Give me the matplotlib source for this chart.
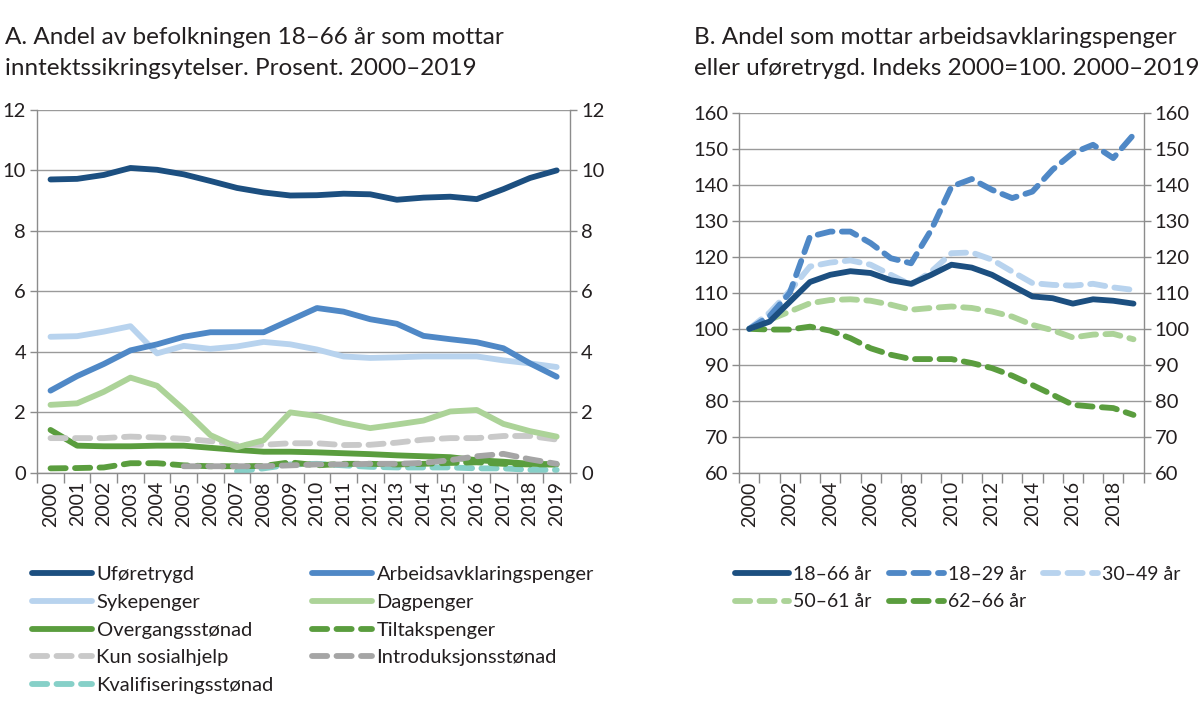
import numpy as np
import matplotlib.pyplot as plt
from matplotlib.ticker import FixedLocator, NullFormatter

plt.rcParams['font.family'] = ['Lato', 'DejaVu Sans']

years = list(range(2000, 2020))
nan = np.nan

# Panel A: andel av befolkningen 18-66 år, prosent
uforetrygd = [9.70, 9.72, 9.85, 10.08, 10.02, 9.87, 9.65, 9.42, 9.27, 9.17,
              9.18, 9.23, 9.21, 9.03, 9.10, 9.13, 9.05, 9.38, 9.75, 10.00]
aap = [2.72, 3.20, 3.60, 4.05, 4.25, 4.50, 4.65, 4.65, 4.65, 5.05,
       5.45, 5.33, 5.08, 4.93, 4.53, 4.42, 4.32, 4.12, 3.62, 3.18]
sykepenger = [4.50, 4.52, 4.67, 4.85, 3.95, 4.20, 4.10, 4.18, 4.33, 4.25,
              4.08, 3.85, 3.80, 3.82, 3.85, 3.85, 3.85, 3.72, 3.62, 3.50]
dagpenger = [2.25, 2.30, 2.68, 3.15, 2.88, 2.10, 1.25, 0.85, 1.08, 2.00,
             1.88, 1.65, 1.48, 1.60, 1.73, 2.03, 2.08, 1.62, 1.38, 1.20]
overgang = [1.42, 0.90, 0.88, 0.88, 0.90, 0.90, 0.83, 0.76, 0.70, 0.70,
            0.68, 0.65, 0.62, 0.58, 0.55, 0.52, 0.42, 0.37, 0.30, 0.28]
tiltak = [0.15, 0.16, 0.18, 0.32, 0.32, 0.25, 0.22, 0.22, 0.23, 0.35,
          0.25, 0.30, 0.30, 0.28, 0.30, 0.33, 0.35, 0.30, 0.28, 0.28]
sosialhjelp = [1.15, 1.15, 1.15, 1.20, 1.17, 1.13, 1.05, 0.93, 0.93, 0.98,
               0.98, 0.92, 0.93, 1.00, 1.10, 1.15, 1.15, 1.22, 1.22, 1.10]
intro = [nan, nan, nan, nan, nan, 0.22, 0.22, 0.22, 0.22, 0.25,
         0.28, 0.28, 0.30, 0.30, 0.33, 0.42, 0.55, 0.63, 0.45, 0.30]
kvalif = [nan, nan, nan, nan, nan, nan, nan, 0.05, 0.15, 0.28,
          0.30, 0.25, 0.20, 0.18, 0.18, 0.18, 0.15, 0.15, 0.10, 0.10]

# Panel B: indeks 2000=100
b_18_66 = [100, 102, 107.5, 113, 115, 116, 115.5, 113.5, 112.5, 115,
           117.8, 117, 115, 112, 109, 108.5, 107, 108.2, 107.8, 107]
b_18_29 = [100, 103.5, 110, 125.6, 127, 127, 123.8, 119.6, 118.2, 127.5,
           139.5, 141.6, 138.6, 136.3, 138.1, 144.2, 148.8, 151.1, 147.4, 153.9]
b_30_49 = [100, 104.5, 110.5, 117.3, 118.4, 119, 117.8, 115, 112.2, 115.9,
           121, 121.2, 119.2, 115.9, 112.7, 112.2, 112, 112.5, 111.5, 110.8]
b_50_61 = [100, 102.5, 104.8, 107.1, 108, 108.2, 107.8, 106.7, 105.3, 105.8,
           106.2, 105.8, 104.8, 103.4, 101.1, 99.6, 97.6, 98.4, 98.6, 97.1]
b_62_66 = [100, 99.8, 99.8, 100.6, 99.5, 97.4, 94.6, 92.8, 91.6, 91.6,
           91.6, 90.5, 89.1, 87, 84.4, 81.7, 78.9, 78.4, 78, 76.1]

navy = '#1c4f80'
blue = '#4f88c6'
lblue = '#b8d3ee'
lgreen = '#acd398'
green = '#5a9d3e'
lgray = '#c9c9c9'
gray = '#a5a5a5'
teal = '#86d0c8'
axcol = '#8c8c8c'
txt = '#231f20'

DASH = (0, (2.6, 1.6))
LW = 4.2

fig = plt.figure(figsize=(12, 7.09), dpi=100)

x = np.arange(len(years))


def style_axes(ax, ymin, ymax, step, xlabels):
    ax.set_xlim(-0.5, len(years) - 0.5)
    ax.set_ylim(ymin, ymax)
    ax.set_yticks(np.arange(ymin, ymax + 0.01, step))
    ax.yaxis.grid(True, color='#9a9a9a', linewidth=1.0)
    ax.set_axisbelow(True)
    for s in ['left', 'right', 'bottom']:
        ax.spines[s].set_color(axcol)
        ax.spines[s].set_linewidth(1.0)
    ax.spines['top'].set_visible(False)
    ax.set_xticks(x)
    ax.set_xticklabels(xlabels, rotation=90)
    ax.tick_params(axis='x', length=0, pad=6, labelsize=14, labelcolor=txt)
    ax.xaxis.set_minor_locator(FixedLocator(np.arange(-0.5, len(years), 1.0)))
    ax.xaxis.set_minor_formatter(NullFormatter())
    ax.tick_params(axis='x', which='minor', length=7, color=axcol, width=1)
    ax.tick_params(axis='y', length=5, color=axcol, width=1, labelsize=14.5,
                   labelcolor=txt, pad=3)
    ax2 = ax.twinx()
    ax2.set_ylim(ymin, ymax)
    ax2.set_yticks(np.arange(ymin, ymax + 0.01, step))
    ax2.tick_params(axis='y', length=5, color=axcol, width=1, labelsize=14.5,
                    labelcolor=txt, pad=3)
    for s in ['left', 'right', 'bottom', 'top']:
        ax2.spines[s].set_visible(False)
    return ax2


# Panel A
axA = fig.add_axes([0.031, 0.333, 0.444, 0.512])
style_axes(axA, 0, 12, 2, [str(y) for y in years])
la = []
la.append(axA.plot(x, uforetrygd, color=navy, lw=LW, solid_capstyle='round', label='Uføretrygd')[0])
la.append(axA.plot(x, sykepenger, color=lblue, lw=LW, solid_capstyle='round', label='Sykepenger')[0])
la.append(axA.plot(x, overgang, color=green, lw=LW, solid_capstyle='round', label='Overgangsstønad')[0])
la.append(axA.plot(x, sosialhjelp, color=lgray, lw=LW, ls=DASH, dash_capstyle='round', label='Kun sosialhjelp')[0])
la.append(axA.plot(x, kvalif, color=teal, lw=LW, ls=DASH, dash_capstyle='round', label='Kvalifiseringsstønad')[0])
la.append(axA.plot(x, aap, color=blue, lw=LW, solid_capstyle='round', label='Arbeidsavklaringspenger')[0])
la.append(axA.plot(x, dagpenger, color=lgreen, lw=LW, solid_capstyle='round', label='Dagpenger')[0])
la.append(axA.plot(x, tiltak, color=green, lw=LW, ls=DASH, dash_capstyle='round', label='Tiltakspenger')[0])
la.append(axA.plot(x, intro, color=gray, lw=LW, ls=DASH, dash_capstyle='round', label='Introduksjonsstønad')[0])

fig.text(0.004, 0.962, 'A. Andel av befolkningen 18–66 år som mottar\ninntektssikringsytelser. Prosent. 2000–2019',
         ha='left', va='top', fontsize=17.5, color=txt, linespacing=1.62)

legA = fig.legend(handles=la, ncol=2, loc='upper left', bbox_to_anchor=(0.020, 0.213),
                  frameon=False, fontsize=14.5, handlelength=3.0, handletextpad=0.2,
                  columnspacing=1.9, labelspacing=0.53, borderaxespad=0, labelcolor=txt)

# Panel B
axB = fig.add_axes([0.616, 0.333, 0.337, 0.508])
style_axes(axB, 60, 160, 10, [str(y) if y % 2 == 0 else '' for y in years])
lb = []
lb.append(axB.plot(x, b_62_66, color=green, lw=LW, ls=DASH, dash_capstyle='round', label='62–66 år')[0])
lb.append(axB.plot(x, b_50_61, color=lgreen, lw=LW, ls=DASH, dash_capstyle='round', label='50–61 år')[0])
lb.append(axB.plot(x, b_30_49, color=lblue, lw=LW, ls=DASH, dash_capstyle='round', label='30–49 år')[0])
lb.append(axB.plot(x, b_18_29, color=blue, lw=LW, ls=DASH, dash_capstyle='round', label='18–29 år')[0])
lb.append(axB.plot(x, b_18_66, color=navy, lw=LW, solid_capstyle='round', label='18–66 år')[0])
order = [4, 1, 3, 0, 2]
fig.text(0.578, 0.962, 'B. Andel som mottar arbeidsavklaringspenger\neller uføretrygd. Indeks 2000=100. 2000–2019',
         ha='left', va='top', fontsize=17.5, color=txt, linespacing=1.62)
legB = fig.legend(handles=[lb[i] for i in order], ncol=3, loc='upper left',
                  bbox_to_anchor=(0.606, 0.213), frameon=False, fontsize=14,
                  handlelength=2.8, handletextpad=0.2, columnspacing=0.9,
                  labelspacing=0.55, borderaxespad=0, labelcolor=txt)

fig.savefig('out.png', dpi=100)
